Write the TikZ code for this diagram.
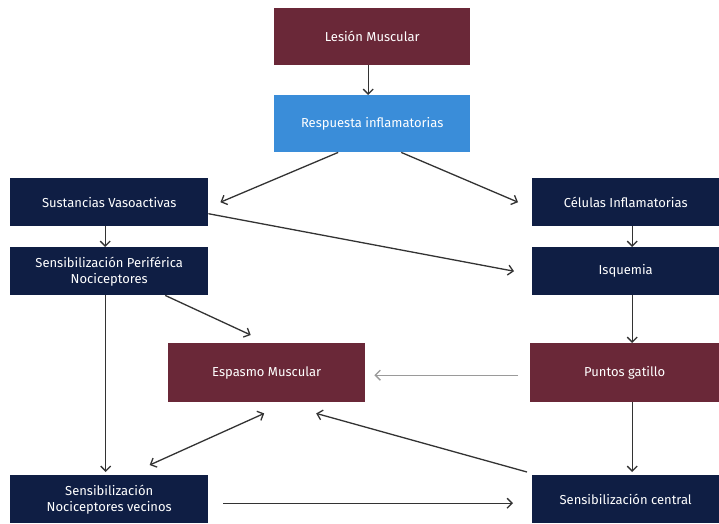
\documentclass[tikz,border=0pt]{standalone}
\usepackage{fontspec}
\setmainfont{Fira Sans}
\usetikzlibrary{arrows.meta}
\definecolor{maroon}{HTML}{6A2838}
\definecolor{navy}{HTML}{0F1E44}
\definecolor{skyb}{HTML}{3A8DD9}
\definecolor{arr}{HTML}{333333}
\definecolor{garr}{HTML}{9A9A9A}
\begin{document}
\begin{tikzpicture}[x=1pt,y=-1pt,
  box/.style={draw=none, text=white, font=\fontsize{13}{16}\selectfont, align=center, inner sep=0pt, anchor=north west},
  mbox/.style={box, fill=maroon},
  nbox/.style={box, fill=navy},
  bbox/.style={box, fill=skyb},
  con/.style={draw=arr, line width=1.3pt, -{Straight Barb[length=5pt,width=10pt]}},
  gcon/.style={con, draw=garr},
  bcon/.style={con, {Straight Barb[length=5pt,width=10pt]}-{Straight Barb[length=5pt,width=10pt]}}]
\useasboundingbox (0,0) rectangle (719,523);
\fill[white] (0,0) rectangle (719,523);
\node[mbox, minimum width=196pt, minimum height=57pt] (les) at (274,8) {Lesión Muscular};
\node[bbox, minimum width=196pt, minimum height=57pt] (resp) at (274,95) {Respuesta inflamatorias};
\node[nbox, minimum width=198pt, minimum height=48pt] (sust) at (10,178) {Sustancias Vasoactivas};
\node[nbox, minimum width=187pt, minimum height=48pt] (cel) at (532,178) {Células Inflamatorias};
\node[nbox, minimum width=198pt, minimum height=48pt] (sper) at (10,247) {Sensibilización Periférica\\Nociceptores};
\node[nbox, minimum width=187pt, minimum height=48pt] (isq) at (532,247) {Isquemia};
\node[mbox, minimum width=197pt, minimum height=59pt] (esp) at (168,343) {Espasmo Muscular};
\node[mbox, minimum width=189pt, minimum height=59pt] (pun) at (530,343) {Puntos gatillo};
\node[nbox, minimum width=198pt, minimum height=48pt] (vec) at (10,475) {Sensibilización\\Nociceptores vecinos};
\node[nbox, minimum width=187pt, minimum height=48pt] (cen) at (532,475) {Sensibilización central};

\draw[con] ([xshift=-4pt]les.south) -- ([xshift=-4pt]resp.north);
\draw[con] ([xshift=-34pt]resp.south) -- ([xshift=12pt]sust.east);
\draw[con] ([xshift=29pt]resp.south) -- ([xshift=-14pt]cel.west);
\draw[con] ([xshift=-4pt]sust.south) -- ([xshift=-4pt]sper.north);
\draw[con] ([yshift=-11.5pt]sust.east) -- ([xshift=-18pt]isq.west);
\draw[con] ([xshift=6.5pt]cel.south) -- ([xshift=6.5pt]isq.north);
\draw[con] ([xshift=6.5pt]isq.south) -- ([xshift=7.5pt]pun.north);
\draw[con] ([xshift=56pt]sper.south) -- ([xshift=-16pt,yshift=8pt]esp.north);
\draw[con] ([xshift=-3.5pt]sper.south) -- ([xshift=-3.5pt,yshift=3pt]vec.north);
\draw[gcon] ([xshift=-12pt,yshift=-2.5pt]pun.west) -- ([xshift=9pt,yshift=-2.5pt]esp.east);
\draw[bcon] ([xshift=-2.5pt,yshift=-11pt]esp.south) -- ([xshift=40.5pt,yshift=10pt]vec.north);
\draw[con] ([xshift=-5pt,yshift=3pt]cen.north west) -- ([xshift=49.5pt,yshift=-11pt]esp.south);
\draw[con] ([xshift=7.5pt]pun.south) -- ([xshift=6.5pt,yshift=3pt]cen.north);
\draw[con] ([xshift=15pt,yshift=-4pt]vec.east) -- ([xshift=-19pt,yshift=-4pt]cen.west);
\end{tikzpicture}
\end{document}
